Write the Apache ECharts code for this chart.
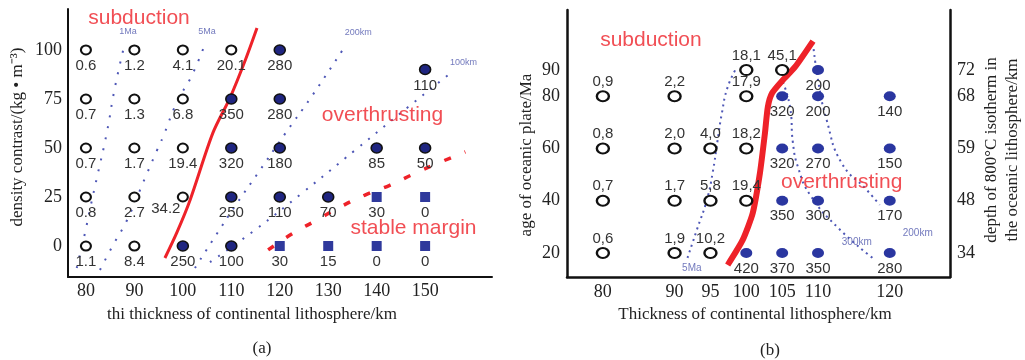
<!DOCTYPE html>
<html>
<head>
<meta charset="utf-8">
<script src="https://cdn.jsdelivr.net/npm/echarts@6/dist/echarts.min.js"></script>
<style>
  html, body { margin: 0; padding: 0; background: #fff; }
  #chart { width: 1025px; height: 360px; }
</style>
</head>
<body>
<div id="chart"></div>
<script>
// ---- panel (a): density contrast vs thickness of continental lithosphere ----
var aXTicks = [80, 90, 100, 110, 120, 130, 140, 150];
var aYTicks = [0, 25, 50, 75, 100];
// [thickness km, density contrast, label]
var aOpen = [
  [80, 100, '0.6'], [90, 100, '1.2'], [100, 100, '4.1'], [110, 100, '20.1'],
  [80, 75, '0.7'], [90, 75, '1.3'], [100, 75, '6.8'],
  [80, 50, '0.7'], [90, 50, '1.7'], [100, 50, '19.4'],
  [80, 25, '0.8'], [90, 25, '2.7'], [100, 25, '34.2'],
  [80, 0, '1.1'], [90, 0, '8.4']
];
var aFilled = [
  [120, 100, '280'], [150, 90, '110'],
  [110, 75, '350'], [120, 75, '280'],
  [110, 50, '320'], [120, 50, '180'], [140, 50, '85'], [150, 50, '50'],
  [110, 25, '250'], [120, 25, '110'], [130, 25, '70'],
  [100, 0, '250'], [110, 0, '100']
];
var aSquare = [
  [140, 25, '30'], [150, 25, '0'],
  [120, 0, '30'], [130, 0, '15'], [140, 0, '0'], [150, 0, '0']
];
var a1Ma = [[78.1, -11.2], [79.8, 6.6], [80.8, 18.4], [82.3, 35.2], [84.3, 57.7], [86.0, 81.1], [88.1, 104.1]];
var a5Ma = [[82.9, -12.2], [85.6, 0.5], [88.5, 13.3], [92.2, 34.7], [94.7, 49], [95.9, 55.6], [98.8, 73.5], [101.9, 87.2], [104.8, 104.6]];
var a200km = [[102.5, -11.2], [106.2, 3.1], [111.2, 21.9], [115.5, 37.2], [120.9, 56.6], [126.5, 76], [133.1, 100.5]];
var a100km = [[105.6, -8.2], [114.9, 8.2], [124.6, 27], [135.6, 49], [146.5, 70.9], [155.8, 89.3]];
var aSubduction = [[96.3, -6.1], [98.8, 7.1], [101.5, 23.5], [106.2, 57.7], [109.8, 76], [112.9, 94.9], [115.3, 111.2]];
var aStable = [[117.6, -2], [122.8, 6.6], [127.7, 13.3], [132.1, 19.4], [137.6, 26], [142.8, 31.1], [147.6, 36.7], [152.7, 42.3], [158.3, 48]];
var aNotes = [[90.95, 116.3, 'subduction'], [141.2, 66.8, 'overthrusting'], [147.6, 9.2, 'stable margin']];
var aTags = [[88.7, 109.2, '1Ma'], [105, 109.2, '5Ma'], [136.2, 108.7, '200km'], [157.9, 93.4, '100km']];

// ---- panel (b): age of oceanic plate vs thickness of continental lithosphere ----
var bXTicks = [80, 90, 95, 100, 105, 110, 120];
var bYTicks = [20, 40, 60, 80, 90];
var bDepth = ['34', '48', '59', '68', '72'];
var bOpen = [
  [80, 80, '0,9'], [90, 80, '2,2'], [100, 90, '18,1'], [100, 80, '17,9'], [105, 90, '45,1'],
  [80, 60, '0,8'], [90, 60, '2,0'], [95, 60, '4,0'], [100, 60, '18,2'],
  [80, 40, '0,7'], [90, 40, '1,7'], [95, 40, '5,8'], [100, 40, '19,4'],
  [80, 20, '0,6'], [90, 20, '1,9'], [95, 20, '10,2']
];
var bFilled = [
  [110, 90, '200'], [105, 80, '320'], [110, 80, '200'], [120, 80, '140'],
  [105, 60, '320'], [110, 60, '270'], [120, 60, '150'],
  [105, 40, '350'], [110, 40, '300'], [120, 40, '170'],
  [100, 20, '420'], [105, 20, '370'], [110, 20, '350'], [120, 20, '280']
];
var b5Ma = [[91.8, 18.1], [93.1, 28.8], [94.5, 40.3], [95.3, 50.6], [96.0, 63.2], [96.6, 73.6], [97.4, 83.5], [98.7, 91.2]];
var b300km = [[105.1, 85.4], [106.1, 75.9], [106.5, 62.1], [107.2, 52.9], [108.9, 42.2], [112.8, 29.6], [117.6, 18.1]];
var b200km = [[109.3, 100.3], [110.0, 86.2], [111.2, 70.9], [113.3, 54.4], [116.8, 44.1], [118.6, 38.4]];
var bSubduction = [[97.4, 15.4], [99.5, 25], [100.9, 35.3], [101.9, 50.6], [102.6, 65.9], [103, 75.9], [103.6, 81.2], [105.1, 86.2], [106.8, 91.2], [109.3, 101.1]];
var bNotes = [[86.7, 101.5, 'subduction'], [113.3, 47.2, 'overthrusting']];
var bTags = [[92.4, 14.3, '5Ma'], [115.4, 24.2, '300km'], [123.9, 27.7, '200km']];

var SERIF = '"Liberation Serif", "Times New Roman", serif';
var SANS = '"Liberation Sans", Arial, sans-serif';
var RED = '#ee2229';
var DOTS = '#4e57b6';

function pts(list) {
  return list.map(function (d) {
    var item = { value: [d[0], d[1]], name: d[2] };
    // this one value is written to the left of its circle
    if (d[2] === '34.2') item.label = { offset: [-17, -4] };
    return item;
  });
}

function dotted(g, data, gap) {
  return {
    type: 'line', xAxisIndex: g, yAxisIndex: g, data: data, smooth: true,
    showSymbol: false, silent: true, z: 2,
    lineStyle: { color: DOTS, width: 2, type: [2, gap] }
  };
}

function marks(g, data, sym, size, style, pos, dist) {
  style.opacity = 1;
  return {
    type: 'scatter', xAxisIndex: g, yAxisIndex: g, data: pts(data),
    symbol: sym, symbolSize: size, itemStyle: style, z: 5,
    label: {
      show: true, position: pos, distance: dist, formatter: '{b}',
      fontFamily: SANS, fontSize: 15, color: '#333'
    }
  };
}

function notes(g, data, size, color) {
  return {
    type: 'scatter', xAxisIndex: g, yAxisIndex: g, data: pts(data),
    symbolSize: 1, itemStyle: { color: 'rgba(0,0,0,0)' }, z: 6,
    label: {
      show: true, position: 'inside', formatter: '{b}',
      fontFamily: SANS, fontSize: size, color: color
    }
  };
}

var axisLine = function (w) {
  return { show: true, onZero: false, lineStyle: { color: '#111', width: w } };
};

var chart = echarts.init(document.getElementById('chart'));
chart.setOption({
  animation: false,
  grid: [
    { left: 68, top: 9, width: 424, height: 268 },
    { left: 567, top: 10, width: 383, height: 267 }
  ],
  xAxis: [
    {
      gridIndex: 0, type: 'value', min: 76.3, max: 163.8,
      axisLine: axisLine(2), axisTick: { show: false }, splitLine: { show: false },
      axisLabel: { customValues: aXTicks, margin: 5, fontFamily: SERIF, fontSize: 18, color: '#222' }
    },
    {
      gridIndex: 1, type: 'value', min: 75, max: 128.4,
      axisLine: axisLine(2.5), axisTick: { show: false }, splitLine: { show: false },
      axisLabel: { customValues: bXTicks, margin: 6, fontFamily: SERIF, fontSize: 18, color: '#222' }
    }
  ],
  yAxis: [
    {
      gridIndex: 0, type: 'value', min: -15.8, max: 120.9,
      axisLine: axisLine(2), axisTick: { show: false }, splitLine: { show: false },
      axisLabel: { customValues: aYTicks, margin: 6, fontFamily: SERIF, fontSize: 18, color: '#222' }
    },
    {
      gridIndex: 1, type: 'value', min: 10.8, max: 113,
      axisLine: axisLine(2.5), axisTick: { show: false }, splitLine: { show: false },
      axisLabel: { customValues: bYTicks, margin: 7, fontFamily: SERIF, fontSize: 18, color: '#222' }
    },
    {
      gridIndex: 1, type: 'value', position: 'right', min: 10.8, max: 113,
      axisLine: axisLine(2.5), axisTick: { show: false }, splitLine: { show: false },
      axisLabel: {
        customValues: bYTicks, margin: 7, fontFamily: SERIF, fontSize: 18, color: '#222',
        formatter: function (v) { return bDepth[bYTicks.indexOf(v)] || ''; }
      }
    }
  ],
  graphic: [
    { type: 'text', x: 18, y: 137, rotation: Math.PI / 2,
      style: { text: 'density contrast/(kg \u2022 m\u207B\u00B3)', font: '17px ' + SERIF, fill: '#222', align: 'center', verticalAlign: 'middle' } },
    { type: 'text', x: 252, y: 315,
      style: { text: 'thi thickness of continental lithosphere/km', font: '17px ' + SERIF, fill: '#222', align: 'center', verticalAlign: 'middle' } },
    { type: 'text', x: 262, y: 349,
      style: { text: '(a)', font: '17px ' + SERIF, fill: '#222', align: 'center', verticalAlign: 'middle' } },
    { type: 'text', x: 527, y: 155, rotation: Math.PI / 2,
      style: { text: 'age of oceanic plate/Ma', font: '17px ' + SERIF, fill: '#222', align: 'center', verticalAlign: 'middle' } },
    { type: 'text', x: 755, y: 315,
      style: { text: 'Thickness of continental lithosphere/km', font: '17px ' + SERIF, fill: '#222', align: 'center', verticalAlign: 'middle' } },
    { type: 'text', x: 770, y: 351,
      style: { text: '(b)', font: '17px ' + SERIF, fill: '#222', align: 'center', verticalAlign: 'middle' } },
    { type: 'text', x: 1002, y: 150, rotation: Math.PI / 2,
      style: { text: 'depth of 800\u00B0C isotherm in\nthe oceanic lithosphere/km', font: '17px ' + SERIF, lineHeight: 21, fill: '#222', align: 'center', verticalAlign: 'middle' } }
  ],
  series: [
    dotted(0, a1Ma, 9), dotted(0, a5Ma, 9), dotted(0, a200km, 8), dotted(0, a100km, 8),
    {
      type: 'line', xAxisIndex: 0, yAxisIndex: 0, data: aStable, smooth: true, showSymbol: false, z: 3,
      lineStyle: { color: RED, width: 3.5, type: [7, 15] }
    },
    {
      type: 'line', xAxisIndex: 0, yAxisIndex: 0, data: aSubduction, smooth: 0.3, showSymbol: false, z: 3,
      lineStyle: { color: RED, width: 3 }
    },
    marks(0, aOpen, 'circle', [10, 9], { color: '#fff', borderColor: '#111', borderWidth: 2 }, 'bottom', 3),
    marks(0, aFilled, 'circle', [11, 10], { color: '#1f2580', borderColor: '#111', borderWidth: 1.5 }, 'bottom', 3),
    marks(0, aSquare, 'rect', [10, 10], { color: '#2f399c' }, 'bottom', 3),
    notes(0, aNotes, 21, RED),
    notes(0, aTags, 9, '#4f57ad'),

    dotted(1, b5Ma, 4), dotted(1, b300km, 4), dotted(1, b200km, 4),
    {
      type: 'line', xAxisIndex: 1, yAxisIndex: 1, data: bSubduction, smooth: 0.2, showSymbol: false, z: 3,
      lineStyle: { color: RED, width: 6 }
    },
    marks(1, bOpen, 'circle', [12, 10], { color: '#fff', borderColor: '#111', borderWidth: 2.2 }, 'top', 1),
    marks(1, bFilled, 'circle', [12, 10], { color: '#2a36a0' }, 'bottom', 3),
    notes(1, bNotes, 21, RED),
    notes(1, bTags, 10, '#4f57ad')
  ]
});
</script>
</body>
</html>
